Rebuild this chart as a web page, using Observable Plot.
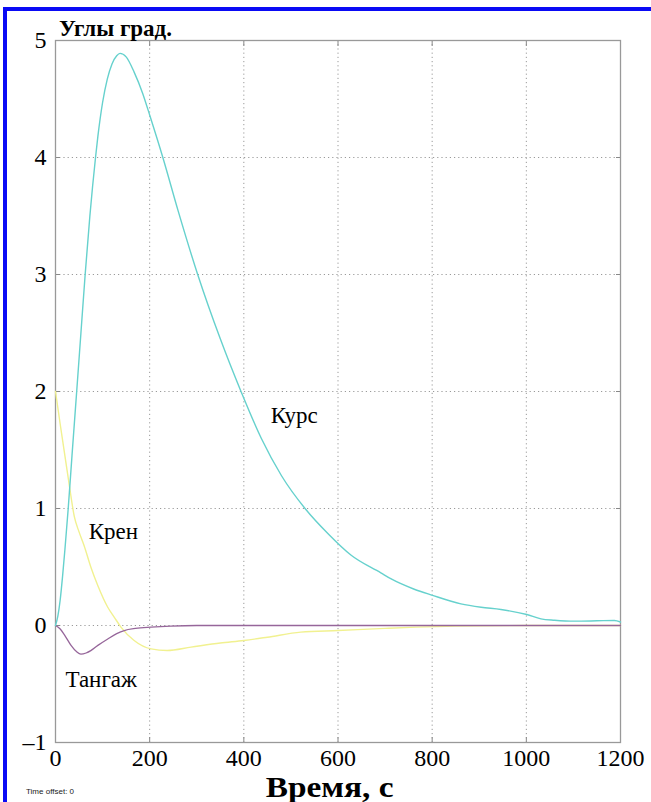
<!DOCTYPE html>
<html>
<head>
<meta charset="utf-8">
<script src="https://cdn.jsdelivr.net/npm/d3@7"></script>
<script src="https://cdn.jsdelivr.net/npm/@observablehq/plot@0.6"></script>
<style>
  html, body { margin: 0; padding: 0; background: #fff; }
  #wrap { position: relative; width: 651px; height: 802px; overflow: hidden; background: #fff; }
  #border { position: absolute; left: 3px; top: 7px; width: 660px; height: 810px;
            border-top: 4px solid #0a0af5; border-left: 4px solid #0a0af5; box-sizing: border-box; }
  #chart { position: absolute; left: 0; top: 0; }
  #chart svg text { font-family: "Liberation Serif", serif; }
  .ttl { position: absolute; font-family: "Liberation Serif", serif; font-weight: bold; color: #000; white-space: nowrap; line-height: 1; }
  #xlab { position: absolute; left: 0; width: 660px; top: 773px; text-align: center; }
  #xlab span { display: inline-block; transform: scaleX(1.15); transform-origin: center; }
  #offset { position: absolute; left: 26px; top: 788px; font-family: "Liberation Sans", sans-serif; font-size: 8px; line-height: 1; color: #222; }
</style>
</head>
<body>
<div id="wrap">
  <div id="chart"></div>
  <div id="border"></div>
  <div class="ttl" style="left:59px; top:17px; font-size:23px;">Углы град.</div>
  <div id="xlab" class="ttl" style="font-size:29px;"><span>Время, с</span></div>
  <div id="offset">Time offset: 0</div>
</div>
<script>
// Axis ticks
const xTicks = [0, 200, 400, 600, 800, 1000, 1200];
const yTicks = [-1, 0, 1, 2, 3, 4, 5];

// Курс (heading)
const kursT = [0, 5, 10, 15, 20, 27, 35, 45, 54, 63, 73, 85, 90, 100, 110, 120, 130, 137, 150, 167, 185, 201, 228, 260, 302, 350, 394, 437, 480, 530, 580, 628, 691, 712, 762, 799, 861, 904, 946, 1001, 1031, 1060, 1102, 1150, 1187, 1200];
const kursV = [0, 0.08, 0.22, 0.42, 0.65, 1.0, 1.45, 2.0, 2.5, 3.0, 3.5, 4.0, 4.18, 4.47, 4.67, 4.80, 4.87, 4.89, 4.86, 4.73, 4.55, 4.35, 4.0, 3.55, 3.0, 2.45, 2.0, 1.6, 1.28, 1.0, 0.78, 0.6, 0.45, 0.40, 0.31, 0.26, 0.185, 0.156, 0.137, 0.094, 0.057, 0.045, 0.037, 0.04, 0.043, 0.03];

// Крен (roll)
const krenT = [0, 10, 20, 30, 40, 50, 61, 75, 90, 111, 125, 139, 167, 203, 237, 288, 350, 400, 450, 521, 600, 700, 766, 850, 1000, 1200];
const krenV = [2.0, 1.72, 1.45, 1.18, 0.93, 0.80, 0.68, 0.50, 0.34, 0.156, 0.07, -0.014, -0.128, -0.2, -0.214, -0.185, -0.15, -0.128, -0.10, -0.057, -0.043, -0.025, -0.014, -0.005, 0, 0];

// Тангаж (pitch)
const tangT = [0, 10, 19, 33, 45, 54, 65, 75, 90, 111, 130, 146, 170, 203, 245, 300, 1200];
const tangV = [0, -0.03, -0.08, -0.17, -0.225, -0.245, -0.235, -0.215, -0.17, -0.115, -0.07, -0.043, -0.025, -0.014, -0.005, 0, 0];

// Curve labels
const labelText = ["Курс", "Крен", "Тангаж"];
const labelT = [507, 123, 97];
const labelV = [1.79, 0.80, -0.46];

const colors = {kurs: "#66d1cd", kren: "#f1f190", tang: "#96669a"};

const toRows = (T, V) => T.map((t, i) => ({t, v: V[i]}));
const kurs = toRows(kursT, kursV);
const kren = toRows(krenT, krenV);
const tang = toRows(tangT, tangV);
const labels = labelText.map((s, i) => ({s, t: labelT[i], v: labelV[i]}));

const serif = "Liberation Serif";
const chart = Plot.plot({
  width: 651,
  height: 802,
  marginLeft: 55,
  marginRight: 31,
  marginTop: 40,
  marginBottom: 60,
  style: {fontFamily: "'Liberation Serif', serif", fontSize: "24px", color: "#000", background: "transparent"},
  x: {domain: [0, 1200], label: null},
  y: {domain: [-1, 5], label: null},
  marks: [
    Plot.gridX(xTicks.slice(1, -1), {stroke: "#9a9a9a", strokeOpacity: 1, strokeDasharray: "1.2,3"}),
    Plot.gridY(yTicks.slice(1, -1), {stroke: "#9a9a9a", strokeOpacity: 1, strokeDasharray: "1.2,3"}),
    Plot.axisX(xTicks, {anchor: "bottom", tickSize: 0, tickPadding: 6, tickFormat: d => String(d), label: null, fontSize: 24, fontFamily: serif}),
    Plot.axisY(yTicks, {anchor: "left", tickSize: 0, tickPadding: 9, tickFormat: d => d < 0 ? "\u2013" + Math.abs(d) : String(d), label: null, fontSize: 24, fontFamily: serif}),
    Plot.axisX(xTicks.slice(1, -1), {anchor: "bottom", tickSize: 5, dy: -5, stroke: "#888", tickFormat: () => "", label: null}),
    Plot.axisX(xTicks.slice(1, -1), {anchor: "top", tickSize: 5, dy: 5, stroke: "#888", tickFormat: () => "", label: null}),
    Plot.axisY(yTicks.slice(1, -1), {anchor: "left", tickSize: 5, dx: 5, stroke: "#888", tickFormat: () => "", label: null}),
    Plot.axisY(yTicks.slice(1, -1), {anchor: "right", tickSize: 5, dx: -5, stroke: "#888", tickFormat: () => "", label: null}),
    Plot.frame({stroke: "#999", strokeWidth: 1.3}),
    Plot.line(kren, {x: "t", y: "v", stroke: colors.kren, strokeWidth: 1.4, curve: "monotone-x"}),
    Plot.line(tang, {x: "t", y: "v", stroke: colors.tang, strokeWidth: 1.3, curve: "monotone-x"}),
    Plot.line(kurs, {x: "t", y: "v", stroke: colors.kurs, strokeWidth: 1.4, curve: "monotone-x"}),
    Plot.text(labels, {x: "t", y: "v", text: "s", fontSize: 23, fontFamily: serif, fill: "#000", textAnchor: "middle"})
  ]
});
document.getElementById("chart").appendChild(chart);
</script>
</body>
</html>
